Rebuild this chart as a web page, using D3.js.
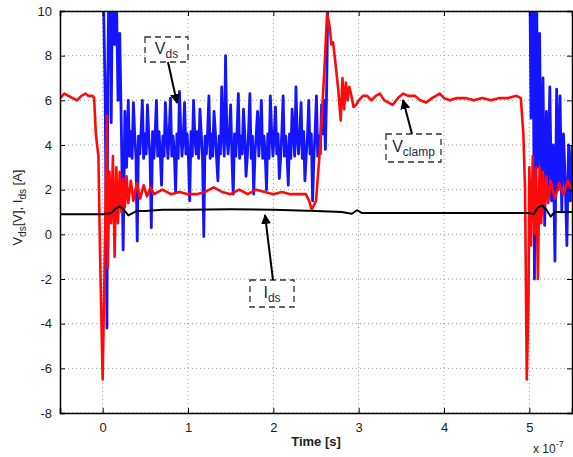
<!DOCTYPE html>
<html>
<head>
<meta charset="utf-8">
<script src="https://cdn.jsdelivr.net/npm/d3@7"></script>
<style>
body { margin: 0; background: #fff; }
svg text { font-family: "Liberation Sans", Arial, sans-serif; }
</style>
</head>
<body>
<div id="graph"></div>
<script>
// time in units of 1e-7 s, values in V / A
var xTicks = [0, 1, 2, 3, 4, 5];
var yTicks = [-8, -6, -4, -2, 0, 2, 4, 6, 8, 10];

// Vds (blue), values above 10 are off the chart
var vdsStart = [[-0.5, 14], [0.0, 14], [0.01, 10.5], [0.03, 6], [0.05, -4.2], [0.06, 7], [0.08, 14],
  [0.1, 5], [0.12, 14], [0.14, 8.5], [0.16, 11], [0.18, 6], [0.2, 9], [0.22, 4.5], [0.24, -0.7],
  [0.26, 5.5], [0.28, 3]];
// ringing part, sampled every 0.015 from 0.30
var vdsRingT0 = 0.30, vdsRingDt = 0.015;
var vdsRing = [
  6.0, 3.5, 4.6, 3.4, 5.9, 4.5, 3.5, -0.3, 4.4, 3.6,
  4.6, 6.0, 3.4, 4.5, 3.6, 5.8, 4.4, 3.5, 0.3, 4.6,
  3.4, 4.5, 6.0, 3.5, 4.6, 3.6, 2.2, 4.4, 3.5, 5.9,
  4.5, 3.4, 4.6, 6.1, 3.5, 4.4, 3.6, 1.9, 4.5, 3.4,
  6.4, 4.6, 3.5, 4.4, 5.9, 3.6, 4.5, 3.4, 1.5, 4.6,
  3.5, 6.0, 4.4, 3.6, 4.6, 3.4, 5.6, 4.5, 3.5, -0.1,
  4.4, 3.6, 4.6, 6.2, 3.4, 4.5, 3.5, 5.5, 4.6, 3.4,
  2.4, 4.4, 3.6, 6.6, 4.5, 3.5, 8.0, 4.4, 3.6, 4.6,
  5.8, 3.4, 1.8, 4.5, 3.5, 4.6, 6.3, 3.4, 4.4, 3.6,
  5.6, 4.5, 2.6, 3.5, 4.6, 6.3, 3.4, 4.4, 1.8, 3.6,
  4.5, 5.5, 3.5, 4.6, 6.0, 3.4, 4.4, 3.6, 2.0, 4.5,
  3.4, 6.2, 4.6, 3.5, 4.4, 5.7, 3.6, 4.5, 2.5, 3.4,
  4.6, 6.2, 3.5, 4.4, 3.6, 2.2, 4.5, 3.4, 5.6, 4.6,
  3.5, 6.6, 4.4, 3.6, 4.5, 5.9, 3.4, 4.6, 2.4, 3.5,
  4.4, 6.0, 3.6, 4.5, 1.5, 3.4, 4.6, 6.2, 3.5, 4.4,
  3.6, 5.8, 4.5, 6.0, 3.8];
var vdsEnd = [[2.625, 6.5], [2.64, 11], [2.66, 14],
  [4.97, 14], [5.0, 14], [5.02, 5.2], [5.04, 14], [5.06, -2.0], [5.08, 14], [5.1, 3], [5.12, 9],
  [5.14, 1], [5.16, 7], [5.18, 0.4], [5.2, 5.5], [5.22, 2], [5.24, 6.6], [5.26, 1.5], [5.28, 4],
  [5.3, -1.2], [5.32, 6.5], [5.34, 2], [5.36, 6.2], [5.38, 1], [5.4, 4.5], [5.42, 2.5], [5.44, -0.5],
  [5.46, 4], [5.48, 1.5], [5.5, 4]];

// Vclamp (red)
var vclamp = [[-0.5, 6.1], [-0.45, 6.3], [-0.4, 6.2], [-0.35, 6.1], [-0.3, 6.0], [-0.25, 6.2],
  [-0.2, 6.3], [-0.17, 6.2], [-0.12, 6.2], [-0.1, 6.1], [-0.08, 4.5], [-0.05, 3.5], [-0.03, -1],
  [0.0, -6.5], [0.02, -2], [0.04, 3], [0.05, 5.3], [0.06, -1.5], [0.08, 2.8], [0.1, 0.5],
  [0.12, 3.5], [0.14, -1.0], [0.16, 3.0], [0.18, 0.5], [0.2, 2.8], [0.22, 1.0], [0.24, 2.5],
  [0.26, 1.2], [0.28, 2.6], [0.3, 1.4], [0.33, 2.4], [0.36, 1.5], [0.4, 2.3], [0.44, 1.6],
  [0.48, 2.2], [0.52, 1.7], [0.56, 2.1], [0.6, 1.8], [0.7, 2.0], [0.8, 1.8], [0.9, 1.9],
  [1.0, 1.8], [1.1, 1.8], [1.2, 1.9], [1.3, 2.1], [1.4, 1.9], [1.5, 1.8], [1.6, 2.0], [1.7, 1.8],
  [1.8, 2.0], [1.9, 1.9], [2.0, 1.8], [2.1, 1.9], [2.2, 1.8], [2.3, 1.8], [2.38, 1.8], [2.42, 1.5],
  [2.45, 1.1], [2.5, 1.5], [2.55, 4], [2.6, 7.5], [2.63, 9.9], [2.66, 9.3], [2.68, 8.5],
  [2.7, 8.6], [2.73, 7.6], [2.76, 6.5], [2.79, 5.1], [2.81, 7.0], [2.83, 5.6], [2.85, 6.8],
  [2.87, 6.0], [2.89, 6.6], [2.91, 6.3], [2.94, 5.7], [2.97, 5.8], [3.0, 6.0], [3.05, 6.2],
  [3.1, 6.2], [3.15, 6.0], [3.2, 6.2], [3.25, 6.3], [3.3, 6.0], [3.4, 5.8], [3.46, 6.1],
  [3.52, 6.3], [3.58, 6.2], [3.66, 6.2], [3.72, 6.0], [3.79, 5.9], [3.86, 6.1], [3.95, 6.3],
  [4.0, 6.1], [4.07, 6.0], [4.15, 6.1], [4.25, 6.1], [4.35, 6.0], [4.45, 6.1], [4.55, 6.0],
  [4.65, 6.1], [4.75, 6.1], [4.85, 6.2], [4.9, 6.1],
  [4.93, 4.5], [4.95, 2], [4.97, -6.5], [4.99, -3], [5.0, 3], [5.02, -0.5],
  [5.04, 3.5], [5.06, 0], [5.08, 3.0], [5.1, -2], [5.12, 3.0], [5.14, 0.5], [5.16, 2.8],
  [5.18, 1.2], [5.2, 2.6], [5.22, 1.4], [5.25, 2.4], [5.3, 1.6], [5.35, 2.3], [5.4, 1.8],
  [5.45, 2.4], [5.5, 2.0]];

// Ids (black)
var ids = [[-0.5, 0.9], [0.0, 0.9], [0.1, 0.95], [0.15, 1.15], [0.2, 1.25], [0.25, 1.1],
  [0.3, 0.85], [0.35, 0.95], [0.4, 1.05], [0.5, 1.05], [0.7, 1.1], [1.0, 1.1], [1.5, 1.12],
  [2.0, 1.1], [2.5, 1.05], [2.8, 1.0], [2.92, 0.92], [2.98, 1.08], [3.04, 0.95], [3.2, 0.95],
  [4.0, 0.95], [4.9, 0.95], [5.0, 0.95], [5.05, 0.9], [5.1, 1.2], [5.15, 1.3], [5.2, 1.1],
  [5.25, 0.8], [5.3, 1.0], [5.4, 1.0], [5.5, 1.0]];

var vds = vdsStart
  .concat(vdsRing.map(function (v, i) { return [vdsRingT0 + i * vdsRingDt, v]; }))
  .concat(vdsEnd);

var width = 573, height = 457;
var pLeft = 60, pRight = 572, pTop = 11, pBottom = 413;

var svg = d3.select("#graph").append("svg")
  .attr("width", width).attr("height", height);

var x = d3.scaleLinear().domain([-0.5, 5.5]).range([pLeft, pRight]);
var y = d3.scaleLinear().domain([-8, 10]).range([pBottom, pTop]);

// grid
svg.append("g").selectAll("line").data(xTicks).enter().append("line")
  .attr("x1", function (d) { return x(d); }).attr("x2", function (d) { return x(d); })
  .attr("y1", pTop).attr("y2", pBottom)
  .attr("stroke", "#999").attr("stroke-width", 1).attr("stroke-dasharray", "1,3");
svg.append("g").selectAll("line").data(yTicks).enter().append("line")
  .attr("y1", function (d) { return y(d); }).attr("y2", function (d) { return y(d); })
  .attr("x1", pLeft).attr("x2", pRight)
  .attr("stroke", "#999").attr("stroke-width", 1).attr("stroke-dasharray", "1,3");

svg.append("clipPath").attr("id", "clip").append("rect")
  .attr("x", pLeft).attr("y", pTop).attr("width", pRight - pLeft).attr("height", pBottom - pTop);

var line = d3.line().x(function (d) { return x(d[0]); }).y(function (d) { return y(d[1]); });
var plot = svg.append("g").attr("clip-path", "url(#clip)");
plot.append("path").datum(vds).attr("d", line).attr("fill", "none")
  .attr("stroke", "#1414ff").attr("stroke-width", 2.8).attr("stroke-linejoin", "round");
plot.append("path").datum(vclamp).attr("d", line).attr("fill", "none")
  .attr("stroke", "#ff0a0a").attr("stroke-width", 2.6).attr("stroke-linejoin", "round");
plot.append("path").datum(ids).attr("d", line).attr("fill", "none")
  .attr("stroke", "#000").attr("stroke-width", 2).attr("stroke-linejoin", "round");

// axes (ticks inward, box)
var fmt = function (d) { return d; };
svg.append("g").attr("transform", "translate(0," + pBottom + ")")
  .call(d3.axisBottom(x).tickValues(xTicks).tickSize(-5).tickPadding(10).tickFormat(fmt));
svg.append("g").attr("transform", "translate(0," + pTop + ")")
  .call(d3.axisTop(x).tickValues(xTicks).tickSize(-5).tickFormat(""));
svg.append("g").attr("transform", "translate(" + pLeft + ",0)")
  .call(d3.axisLeft(y).tickValues(yTicks).tickSize(-5).tickPadding(8).tickFormat(fmt));
svg.append("g").attr("transform", "translate(" + pRight + ",0)")
  .call(d3.axisRight(y).tickValues(yTicks).tickSize(-5).tickFormat(""));
svg.selectAll(".domain").attr("stroke", "#000").attr("stroke-width", 1.5);
svg.selectAll(".tick line").attr("stroke", "#000");
svg.selectAll(".tick text").attr("font-size", 13).attr("fill", "#222")
  .attr("font-family", "'Liberation Sans', Arial, sans-serif");

// axis labels
svg.append("text").attr("x", x(2.5)).attr("y", 446).attr("text-anchor", "middle")
  .attr("font-size", 13).attr("font-weight", "bold").attr("fill", "#222").text("Time [s]");
var mult = svg.append("text").attr("x", 533).attr("y", 453).attr("font-size", 12).attr("fill", "#222");
mult.append("tspan").text("x 10");
mult.append("tspan").attr("font-size", 9).attr("dy", -6).text("-7");

var yl = svg.append("text").attr("transform", "translate(22," + y(1.2) + ") rotate(-90)")
  .attr("text-anchor", "middle").attr("font-size", 13).attr("fill", "#222");
yl.append("tspan").text("V");
yl.append("tspan").attr("font-size", 10).attr("dy", 4).text("ds");
yl.append("tspan").attr("dy", -4).text("[V], I");
yl.append("tspan").attr("font-size", 10).attr("dy", 4).text("ds");
yl.append("tspan").attr("dy", -4).text(" [A]");

// annotations
svg.append("defs").append("marker").attr("id", "ah").attr("viewBox", "0 0 10 10")
  .attr("refX", 9).attr("refY", 5).attr("markerWidth", 5).attr("markerHeight", 5)
  .attr("orient", "auto").append("path").attr("d", "M0,0L10,5L0,10z").attr("fill", "#000");

var notes = [
  { main: "V", sub: "ds", box: [145, 37, 43, 25], from: [168, 62], to: [177, 103] },
  { main: "V", sub: "clamp", box: [386, 134, 55, 28], from: [412, 134], to: [403, 100] },
  { main: "I", sub: "ds", box: [250, 280, 44, 27], from: [273, 280], to: [265, 215] }
];
notes.forEach(function (n) {
  svg.append("rect").attr("x", n.box[0]).attr("y", n.box[1]).attr("width", n.box[2]).attr("height", n.box[3])
    .attr("fill", "#fff").attr("stroke", "#333").attr("stroke-width", 1.3).attr("stroke-dasharray", "6,4");
  svg.append("line").attr("x1", n.from[0]).attr("y1", n.from[1]).attr("x2", n.to[0]).attr("y2", n.to[1])
    .attr("stroke", "#000").attr("stroke-width", 2).attr("marker-end", "url(#ah)");
  var t = svg.append("text").attr("x", n.box[0] + n.box[2] / 2).attr("y", n.box[1] + n.box[3] / 2 + 4)
    .attr("text-anchor", "middle").attr("fill", "#1f2a4a").attr("font-size", 16);
  t.append("tspan").text(n.main);
  t.append("tspan").attr("font-size", 12).attr("dy", 4).text(n.sub);
});
</script>
</body>
</html>
